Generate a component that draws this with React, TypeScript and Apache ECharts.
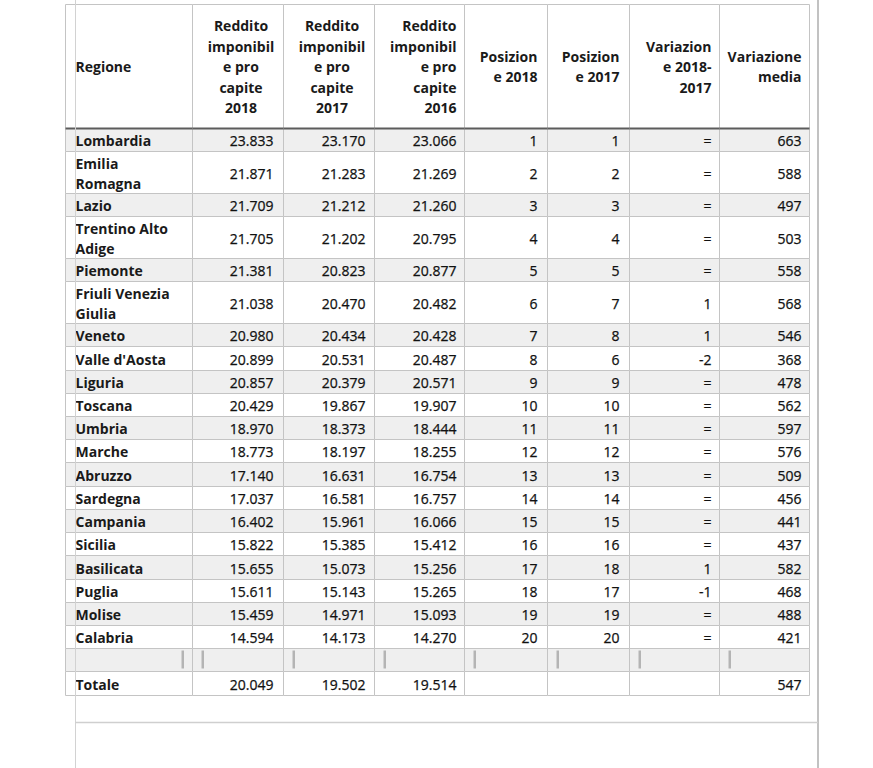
import React, { useEffect, useRef } from "react";
import * as echarts from "echarts";

const headers = [
  "Regione",
  "Reddito\nimponibil\ne pro\ncapite\n2018",
  "Reddito\nimponibil\ne pro\ncapite\n2017",
  "Reddito\nimponibil\ne pro\ncapite\n2016",
  "Posizion\ne 2018",
  "Posizion\ne 2017",
  "Variazion\ne 2018-\n2017",
  "Variazione\nmedia",
];

const regions = [
  "Lombardia", "Emilia\nRomagna", "Lazio", "Trentino Alto\nAdige", "Piemonte",
  "Friuli Venezia\nGiulia", "Veneto", "Valle d'Aosta", "Liguria", "Toscana",
  "Umbria", "Marche", "Abruzzo", "Sardegna", "Campania",
  "Sicilia", "Basilicata", "Puglia", "Molise", "Calabria",
];

const reddito2018 = [23833, 21871, 21709, 21705, 21381, 21038, 20980, 20899, 20857, 20429, 18970, 18773, 17140, 17037, 16402, 15822, 15655, 15611, 15459, 14594];
const reddito2017 = [23170, 21283, 21212, 21202, 20823, 20470, 20434, 20531, 20379, 19867, 18373, 18197, 16631, 16581, 15961, 15385, 15073, 15143, 14971, 14173];
const reddito2016 = [23066, 21269, 21260, 20795, 20877, 20482, 20428, 20487, 20571, 19907, 18444, 18255, 16754, 16757, 16066, 15412, 15256, 15265, 15093, 14270];
const posizione2018 = [1, 2, 3, 4, 5, 6, 7, 8, 9, 10, 11, 12, 13, 14, 15, 16, 17, 18, 19, 20];
const posizione2017 = [1, 2, 3, 4, 5, 7, 8, 6, 9, 10, 11, 12, 13, 14, 15, 16, 18, 17, 19, 20];
const variazione = ["=", "=", "=", "=", "=", "1", "1", "-2", "=", "=", "=", "=", "=", "=", "=", "=", "1", "-1", "=", "="];
const variazioneMedia = [663, 588, 497, 503, 558, 568, 546, 368, 478, 562, 597, 576, 509, 456, 441, 437, 582, 468, 488, 421];

const totaleLabel = "Totale";
const totale2018 = 20049;
const totale2017 = 19502;
const totale2016 = 19514;
const totaleMedia = 547;

function fmt(n: number): string {
  const s = String(n);
  return s.length > 3 ? s.slice(0, s.length - 3) + "." + s.slice(-3) : s;
}

// layout (absolute page px)
const COL_X = [65, 192, 283, 374, 464, 547, 629, 719, 809];
const TABLE_TOP = 4;
const HEADER_H = 124;
const SINGLE_H = 23.2;
const DOUBLE_H = 41.9;
const RIGHT_PAD = [0, 10, 9, 8, 10, 10, 8, 8];
const FONT = '"Open Sans", "Liberation Sans", sans-serif';

type Kind = "header" | "data" | "blank" | "total";

const tableRows: string[][] = [
  headers,
  ...regions.map((r, i) => [
    r,
    fmt(reddito2018[i]),
    fmt(reddito2017[i]),
    fmt(reddito2016[i]),
    String(posizione2018[i]),
    String(posizione2017[i]),
    variazione[i],
    String(variazioneMedia[i]),
  ]),
  ["", "", "", "", "", "", "", ""],
  [totaleLabel, fmt(totale2018), fmt(totale2017), fmt(totale2016), "", "", "", String(totaleMedia)],
];
const rowKinds: Kind[] = [
  "header",
  ...regions.map(() => "data" as Kind),
  "blank",
  "total",
];

const rowHeights = tableRows.map((row, i) => {
  if (rowKinds[i] === "header") return HEADER_H;
  const lines = Math.max(...row.map((c) => c.split("\n").length));
  return lines > 1 ? DOUBLE_H : SINGLE_H;
});
const rowEdges: number[] = [0];
rowHeights.forEach((h) => rowEdges.push(rowEdges[rowEdges.length - 1] + h));
const rowEdgesR = rowEdges.map((v) => Math.round(v));
const colEdges = COL_X.map((x) => x - COL_X[0]);
const TABLE_W = colEdges[colEdges.length - 1];
const TABLE_H = rowEdgesR[rowEdgesR.length - 1];

const cells: { r: number; c: number }[] = [];
tableRows.forEach((row, r) => row.forEach((_, c) => cells.push({ r, c })));

export default function App() {
  const ref = useRef<HTMLDivElement>(null);
  useEffect(() => {
    if (!ref.current) return;
    const chart = echarts.init(ref.current, null, { renderer: "svg" });
    const option: any = {
      animation: false,
      backgroundColor: "#ffffff",
      grid: { left: COL_X[0] + 0.5, top: TABLE_TOP + 0.5, width: TABLE_W, height: TABLE_H, show: false },
      xAxis: { type: "value", min: 0, max: TABLE_W, show: false },
      yAxis: { type: "value", min: 0, max: TABLE_H, inverse: true, show: false },
      series: [
        {
          type: "custom",
          clip: false,
          data: cells.map((c) => [c.c, c.r]),
          renderItem: (params: any, api: any) => {
            const { r, c } = cells[params.dataIndex];
            const kind = rowKinds[r];
            const p0 = api.coord([colEdges[c], rowEdgesR[r]]);
            const p1 = api.coord([colEdges[c + 1], rowEdgesR[r + 1]]);
            const x0 = p0[0], y0 = p0[1];
            const w = p1[0] - p0[0], h = p1[1] - p0[1];
            const shaded = (kind === "data" && (r - 1) % 2 === 0) || kind === "blank";
            const children: any[] = [
              {
                type: "rect",
                shape: { x: x0, y: y0, width: w, height: h },
                style: { fill: shaded ? "#efefef" : "#ffffff", stroke: "#c4c4c4", lineWidth: 1 },
              },
            ];
            const text = tableRows[r][c];
            if (text) {
              let align = "right";
              let tx = x0 + w - RIGHT_PAD[c];
              if (c === 0) { align = "left"; tx = x0 + 10; }
              else if (kind === "header" && (c === 1 || c === 2)) { align = "center"; tx = x0 + w / 2 + 3; }
              const bold = kind === "header" || c === 0;
              children.push({
                type: "text",
                z2: 10,
                style: {
                  text,
                  x: tx,
                  y: y0 + h / 2 + (kind === "header" ? 0 : 0.5),
                  align,
                  verticalAlign: "middle",
                  font: `${bold ? "bold " : ""}14px ${FONT}`,
                  fill: bold ? "#1a1a1a" : "#111111",
                  stroke: bold ? undefined : "#111111",
                  lineWidth: bold ? 0 : 0.25,
                  lineHeight: kind === "header" ? 20.5 : 20,
                },
              });
            }
            if (kind === "header") {
              children.push({
                type: "line",
                z2: 5,
                shape: { x1: x0, y1: y0 + h, x2: x0 + w, y2: y0 + h },
                style: { stroke: "#5c5c5c", lineWidth: 2 },
              });
            }
            if (kind === "blank") {
              const bx = c === 0 ? x0 + w - 11 : x0 + 9;
              children.push({
                type: "rect",
                z2: 5,
                shape: { x: bx, y: y0 + 2, width: 2.5, height: h - 5 },
                style: { fill: "#b4b4b4" },
              });
            }
            return { type: "group", children };
          },
        },
      ],
      graphic: [
        { type: "line", z: 100, shape: { x1: 75.5, y1: 0, x2: 75.5, y2: 768 }, style: { stroke: "#d2d2d2", lineWidth: 1 } },
        { type: "line", z: 100, shape: { x1: 818, y1: 0, x2: 818, y2: 768 }, style: { stroke: "#c2c2c2", lineWidth: 2 } },
        { type: "line", z: 100, shape: { x1: 75, y1: 722.5, x2: 818, y2: 722.5 }, style: { stroke: "#cfcfcf", lineWidth: 1.5 } },
      ],
    };
    chart.setOption(option);
    return () => chart.dispose();
  }, []);
  return (
    <div
      ref={ref}
      style={{ position: "fixed", left: 0, top: 0, width: 873, height: 768, background: "#fff" }}
    />
  );
}
